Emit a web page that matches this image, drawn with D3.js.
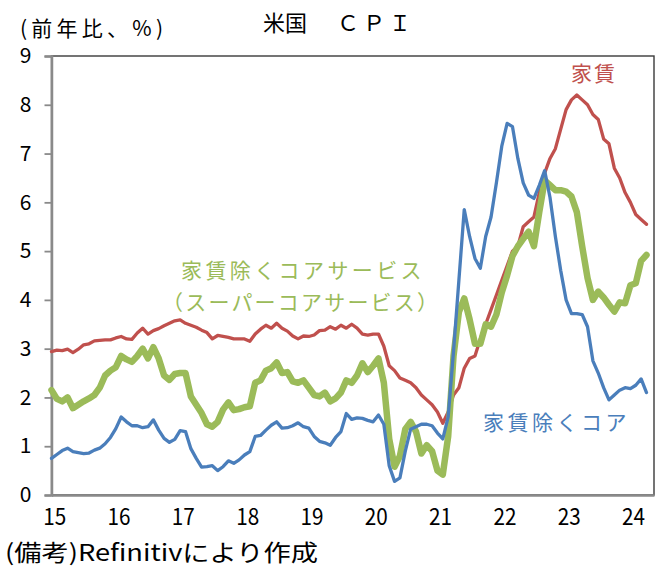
<!DOCTYPE html>
<html>
<head>
<meta charset="utf-8">
<script src="https://cdn.jsdelivr.net/npm/d3@7/dist/d3.min.js"></script>
<style>
  html, body { margin: 0; padding: 0; background: #fff; }
  svg { display: block; }
  text { font-family: 'Noto Sans CJK JP', 'Noto Sans', sans-serif; }
</style>
</head>
<body>
<script>
// Monthly data, Jan 2015 - Apr 2024 (YoY %)
const rent = [
  2.94, 2.97, 2.96, 2.99, 2.92, 2.99, 3.08, 3.10, 3.16, 3.17, 3.18, 3.18,
  3.22, 3.25, 3.20, 3.19, 3.32, 3.42, 3.30, 3.37, 3.41, 3.47, 3.52, 3.57,
  3.59, 3.52, 3.48, 3.44, 3.38, 3.33, 3.20, 3.27, 3.25, 3.23, 3.20, 3.20,
  3.20, 3.15, 3.30, 3.40, 3.48, 3.42, 3.52, 3.42, 3.36, 3.26, 3.20, 3.26,
  3.25, 3.28, 3.37, 3.38, 3.45, 3.40, 3.48, 3.42, 3.50, 3.42, 3.30, 3.28,
  3.30, 3.30, 3.05, 2.65, 2.55, 2.40, 2.35, 2.30, 2.20, 2.05, 1.95, 1.85,
  1.70, 1.47, 1.70, 2.05, 2.20, 2.60, 2.80, 2.85, 3.20, 3.50, 3.80, 4.10,
  4.40, 4.70, 5.00, 5.10, 5.50, 5.60, 5.70, 6.20, 6.60, 6.90, 7.10, 7.50,
  7.90, 8.10, 8.20, 8.10, 8.00, 7.80, 7.70, 7.30, 7.20, 6.70, 6.50, 6.20,
  6.00, 5.75, 5.65, 5.55
];
const coreExRent = [
  0.75, 0.83, 0.91, 0.96, 0.89, 0.87, 0.85, 0.86, 0.92, 0.96, 1.05, 1.18,
  1.36, 1.60, 1.50, 1.42, 1.42, 1.38, 1.40, 1.54, 1.33, 1.16, 1.08, 1.14,
  1.32, 1.30, 0.95, 0.75, 0.57, 0.58, 0.60, 0.50, 0.58, 0.70, 0.65, 0.72,
  0.82, 0.89, 1.20, 1.22, 1.33, 1.43, 1.50, 1.37, 1.38, 1.42, 1.48, 1.40,
  1.37, 1.20, 1.10, 1.07, 1.02, 1.18, 1.30, 1.67, 1.55, 1.58, 1.57, 1.53,
  1.50, 1.64, 1.45, 0.60, 0.28, 0.35, 0.90, 1.35, 1.40, 1.45, 1.45, 1.42,
  1.27, 1.15, 1.60, 2.95, 4.40, 5.85, 5.30, 4.85, 4.65, 5.30, 5.70, 6.40,
  7.15, 7.62, 7.55, 6.90, 6.40, 6.15, 6.08, 6.35, 6.65, 6.10, 5.30, 4.60,
  4.00, 3.72, 3.72, 3.70, 3.45, 2.75, 2.50, 2.20, 1.95, 2.05, 2.15, 2.20,
  2.18, 2.25, 2.38, 2.10
];
const superCore = [
  2.15, 1.97, 1.92, 2.00, 1.78, 1.85, 1.92, 1.98, 2.05, 2.20, 2.45, 2.55,
  2.62, 2.85, 2.78, 2.73, 2.85, 3.00, 2.80, 3.03, 2.80, 2.45, 2.36, 2.48,
  2.50, 2.50, 2.02, 1.85, 1.68, 1.45, 1.40, 1.50, 1.75, 1.90, 1.74, 1.76,
  1.80, 1.82, 2.30, 2.35, 2.55, 2.60, 2.72, 2.50, 2.52, 2.33, 2.30, 2.35,
  2.20, 2.05, 2.02, 2.10, 1.92, 1.98, 2.10, 2.35, 2.30, 2.45, 2.70, 2.52,
  2.65, 2.80, 2.30, 1.15, 0.58, 0.80, 1.35, 1.50, 1.30, 0.85, 1.02, 0.90,
  0.50, 0.42, 1.20, 2.85, 3.75, 4.03, 3.60, 3.10, 3.10, 3.50, 3.45, 3.70,
  4.15, 4.50, 4.90, 5.10, 5.25, 5.40, 5.10, 5.80, 6.45, 6.35, 6.25, 6.25,
  6.22, 6.12, 5.80, 5.10, 4.45, 4.00, 4.17, 4.05, 3.90, 3.76, 3.95, 3.93,
  4.30, 4.34, 4.80, 4.92
];
const yearLabels = ["15", "16", "17", "18", "19", "20", "21", "22", "23", "24"];
const yTickValues = [0, 1, 2, 3, 4, 5, 6, 7, 8, 9];

const W = 668, H = 584;
const colors = { rent: "#C0504D", core: "#4A7EBB", superCore: "#9BBB59" };

const svg = d3.select("body").append("svg").attr("width", W).attr("height", H);

const x = d3.scaleLinear().domain([0, 112.4]).range([51.5, 654]);
const y = d3.scaleLinear().domain([0, 9]).range([495, 56]);

// plot frame (top/right)
svg.append("rect")
  .attr("x", x(0)).attr("y", y(9))
  .attr("width", x(112.4) - x(0)).attr("height", y(0) - y(9))
  .attr("fill", "none").attr("stroke", "#3a3a3a").attr("stroke-width", 1.4);

// Y axis
const yAxis = d3.axisLeft(y).tickValues(yTickValues).tickSize(7).tickPadding(13)
  .tickFormat(d3.format("d"));
const gy = svg.append("g").attr("transform", `translate(${x(0)},0)`).call(yAxis);
gy.select(".domain").attr("stroke", "#8a8a8a").attr("stroke-width", 2.5);
gy.selectAll(".tick line").attr("stroke", "#8a8a8a").attr("stroke-width", 1.8);
gy.selectAll(".tick text").attr("font-size", 21).attr("fill", "#000")
  .attr("font-family", "'Noto Sans CJK JP', sans-serif");

// X axis (year labels)
const xAxis = d3.axisBottom(x)
  .tickValues(yearLabels.map((_, k) => 12 * k + 0.5))
  .tickSize(0).tickPadding(14)
  .tickFormat((d, k) => yearLabels[k]);
const gx = svg.append("g").attr("transform", `translate(0,${y(0)})`).call(xAxis);
gx.select(".domain").attr("stroke", "#8a8a8a").attr("stroke-width", 2.5);
gx.selectAll(".tick text").attr("font-size", 23).attr("fill", "#000")
  .attr("font-family", "'Noto Sans CJK JP', sans-serif")
  .attr("textLength", 23).attr("lengthAdjust", "spacingAndGlyphs");

// Lines
const line = d3.line().x((d, i) => x(i)).y(d => y(d));
function drawLine(data, color, width) {
  svg.append("path").datum(data)
    .attr("fill", "none").attr("stroke", color).attr("stroke-width", width)
    .attr("stroke-linejoin", "round").attr("stroke-linecap", "round")
    .attr("d", line);
}
drawLine(rent, colors.rent, 3.3);
drawLine(superCore, colors.superCore, 6.5);
drawLine(coreExRent, colors.core, 3.3);

// Title
svg.append("text").attr("x", 263).attr("y", 31).attr("font-size", 22).text("米国");
svg.append("text").attr("x", 337).attr("y", 31).attr("font-size", 22)
  .attr("letter-spacing", 4).text("ＣＰＩ");

// Y unit label
svg.append("text").attr("x", 20).attr("y", 36).attr("font-size", 21)
  .attr("textLength", 143).attr("lengthAdjust", "spacing").text("(前年比、%)");

// Series labels
svg.append("text").attr("x", 571).attr("y", 81).attr("font-size", 21)
  .attr("letter-spacing", 2).attr("fill", colors.rent).text("家賃");
svg.append("text").attr("x", 181).attr("y", 278).attr("font-size", 21)
  .attr("letter-spacing", 3.4).attr("fill", colors.superCore).text("家賃除くコアサービス");
svg.append("text").attr("x", 162).attr("y", 310).attr("font-size", 21)
  .attr("letter-spacing", 2.2).attr("fill", colors.superCore).text("（スーパーコアサービス）");
svg.append("text").attr("x", 483).attr("y", 430).attr("font-size", 21)
  .attr("letter-spacing", 3.5).attr("fill", colors.core).text("家賃除くコア");

// Source note
svg.append("text").attr("x", 5).attr("y", 561).attr("font-size", 23)
  .attr("textLength", 313).attr("lengthAdjust", "spacingAndGlyphs")
  .text("(備考)Refinitivにより作成");
</script>
</body>
</html>
